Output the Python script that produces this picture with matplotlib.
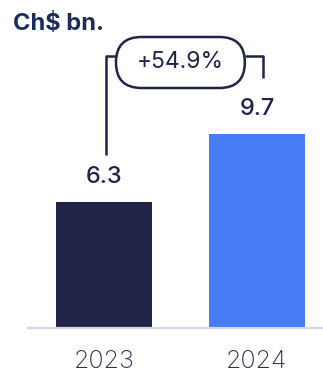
import matplotlib
matplotlib.use("Agg")
import matplotlib.pyplot as plt
from matplotlib.patches import FancyBboxPatch

years = ["2023", "2024"]
values = [6.3, 9.7]
value_labels = ["6.3", "9.7"]
growth_label = "+54.9%"
title = "Ch$ bn."

W, H, DPI = 323, 373, 100
fig = plt.figure(figsize=(W / DPI, H / DPI), dpi=DPI)
fig.patch.set_facecolor("white")

navy = "#1f2448"
blue = "#467cf6"
text_c = "#1f2448"
base_c = "#d3d5ea"

ax = fig.add_axes([28 / W, 45 / H, 295 / W, 328 / H])
x = list(range(len(years)))
ax.bar(x, values, width=0.627, color=[navy, blue], zorder=2)
ax.set_xlim(-0.497, 1.431)
ax.set_ylim(0, 16.4)
for s in ["top", "right", "left"]:
    ax.spines[s].set_visible(False)
ax.spines["bottom"].set_color(base_c)
ax.spines["bottom"].set_linewidth(1.6)
ax.set_yticks([])
ax.set_xticks(x)
ax.set_xticklabels(years, fontsize=18, color="#2a2e55", family="Inter", fontweight="light")
ax.tick_params(axis="x", length=0, pad=16)

for xi, v, lab in zip(x, values, value_labels):
    ax.text(xi, v + 1.25, lab, ha="center", va="center", fontsize=17,
            color=text_c, family="Inter", fontweight="medium")

# bracket
lw = 1.8
yb = 13.6
ax.plot([0.01, 0.01, 0.08], [8.65, yb, yb], color=text_c, lw=lw, solid_capstyle="butt", clip_on=False)
ax.plot([0.92, 1.04, 1.04], [yb, yb, 12.5], color=text_c, lw=lw, solid_capstyle="butt", clip_on=False)
pill = FancyBboxPatch((0.078, 12.0), 0.842, 2.55,
                      boxstyle="round,pad=0,rounding_size=0.1667",
                      mutation_aspect=7.65, fc="white", ec=text_c, lw=lw,
                      clip_on=False, zorder=3)
ax.add_patch(pill)
ax.text(0.5, 13.3, growth_label, ha="center", va="center", fontsize=16.5,
        color=text_c, family="Inter", zorder=4)

fig.text(13 / W, 1 - 24 / H, title, ha="left", va="center", fontsize=17,
         fontweight="bold", color="#1b2d5e", family="Inter")

fig.savefig("out.png", dpi=DPI)
